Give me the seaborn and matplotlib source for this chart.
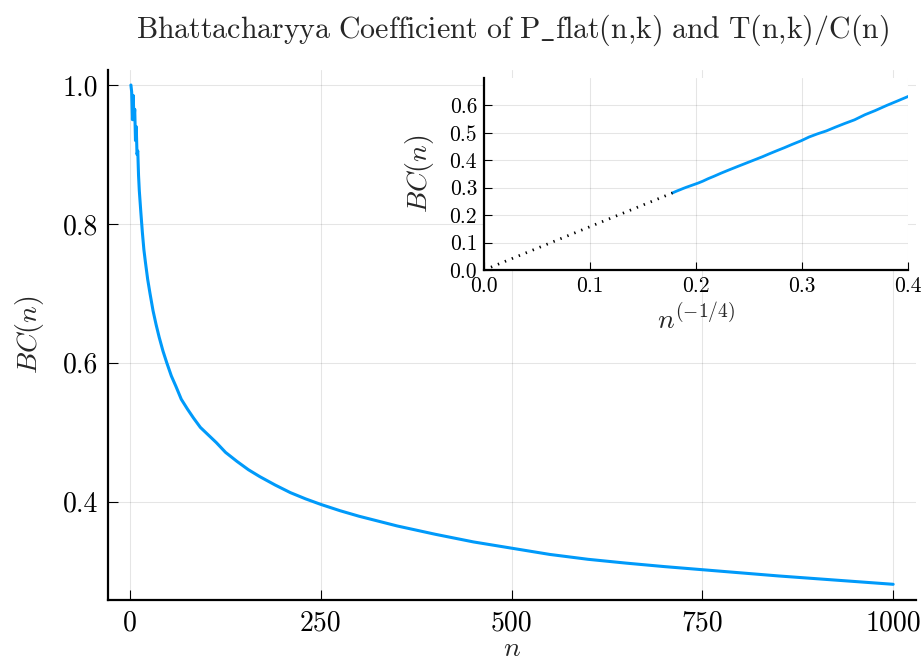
import matplotlib
matplotlib.use("Agg")
import matplotlib.pyplot as plt
import numpy as np
import pandas as pd
import seaborn as sns

# values
n_vals = [1, 2, 3, 4, 5, 6, 7, 8, 9, 10, 11, 12, 14, 16, 18, 20, 23, 26, 30, 34,
          38, 43, 48, 54, 60, 67, 75, 83, 92, 102, 113, 125, 140, 155, 170, 190,
          210, 230, 250, 275, 300, 350, 400, 450, 500, 550, 600, 650, 700, 750,
          800, 850, 900, 950, 1000]
bc_vals = [1.00, 0.99, 0.95, 0.985, 0.95, 0.965, 0.92, 0.94, 0.90, 0.905, 0.87,
           0.848, 0.817, 0.788, 0.763, 0.745, 0.72, 0.70, 0.675, 0.655, 0.637, 0.617,
           0.60, 0.581, 0.566, 0.5475, 0.5335, 0.5205, 0.507, 0.4965, 0.485, 0.471,
           0.458, 0.446, 0.436, 0.424, 0.413, 0.404, 0.396, 0.387, 0.379, 0.365,
           0.353, 0.342, 0.333, 0.324, 0.317, 0.3115, 0.3065, 0.302, 0.2975, 0.293,
           0.289, 0.285, 0.281]

# dotted extrapolation to the origin in the inset
extrap_x = [0.0, 0.1778]
extrap_y = [0.0, 0.281]

main_xticks = [0, 250, 500, 750, 1000]
main_yticks = [0.4, 0.6, 0.8, 1.0]
inset_xticks = [0.0, 0.1, 0.2, 0.3, 0.4]
inset_yticks = [0.0, 0.1, 0.2, 0.3, 0.4, 0.5, 0.6]

df = pd.DataFrame({"n": n_vals, "bc": bc_vals})
df["x"] = df["n"] ** (-0.25)
df_in = df[df["n"] >= 38]

sns.set_theme(style="white")
plt.rcParams["font.family"] = ["cmr10", "DejaVu Serif"]
plt.rcParams["mathtext.fontset"] = "cm"
plt.rcParams["axes.formatter.use_mathtext"] = True

blue = "#009AFA"
grid_kw = dict(color="black", alpha=0.1, linewidth=0.8)

fig = plt.figure(figsize=(9.24, 6.61), dpi=100)
ax = fig.add_axes([0.1169, 0.0923, 0.8745, 0.8018])
sns.lineplot(data=df, x="n", y="bc", ax=ax, color=blue, linewidth=2.2)
ax.set_xlim(-29, 1030)
ax.set_ylim(0.2584, 1.0216)
ax.set_xticks(main_xticks)
ax.set_yticks(main_yticks)
ax.set_xticklabels([str(t) for t in main_xticks])
ax.set_yticklabels(["%.1f" % t for t in main_yticks])
ax.grid(True, **grid_kw)
for s in ["top", "right"]:
    ax.spines[s].set_visible(False)
for s in ["left", "bottom"]:
    ax.spines[s].set_color("black")
    ax.spines[s].set_linewidth(1.6)
ax.tick_params(direction="in", length=7, width=0.8, labelsize=20, colors="black",
               left=True, bottom=True, pad=7)
ax.set_xlabel(r"$n$", fontsize=20, labelpad=0)
ax.set_ylabel(r"$BC(n)$", fontsize=20, labelpad=12)
ax.set_title(r"$\mathrm{Bhattacharyya\ Coefficient\ of\ P\_flat(n{,}k)\ and\ T(n{,}k)/C(n)}$",
             fontsize=21.5, pad=23)

ins = fig.add_axes([0.5238, 0.5915, 0.4589, 0.2905])
sns.lineplot(data=df_in, x="x", y="bc", ax=ins, color=blue, linewidth=2.0)
sns.lineplot(x=extrap_x, y=extrap_y, ax=ins, color="black", linewidth=2.0,
             linestyle=(0, (0.5, 2.2)))
ins.set_xlim(0, 0.4)
ins.set_ylim(0, 0.7)
ins.set_xticks(inset_xticks)
ins.set_yticks(inset_yticks)
ins.set_xticklabels(["%.1f" % t for t in inset_xticks])
ins.set_yticklabels(["%.1f" % t for t in inset_yticks])
ins.grid(True, **grid_kw)
for s in ["top", "right"]:
    ins.spines[s].set_visible(False)
for s in ["left", "bottom"]:
    ins.spines[s].set_color("black")
    ins.spines[s].set_linewidth(1.6)
ins.tick_params(direction="in", length=6, width=0.8, labelsize=15.5, colors="black",
                left=True, bottom=True, pad=5)
ins.set_xlabel(r"$n^{(-1/4)}$", fontsize=20, labelpad=6)
ins.set_ylabel(r"$BC(n)$", fontsize=20, labelpad=10)

fig.savefig("out.png", dpi=100)
